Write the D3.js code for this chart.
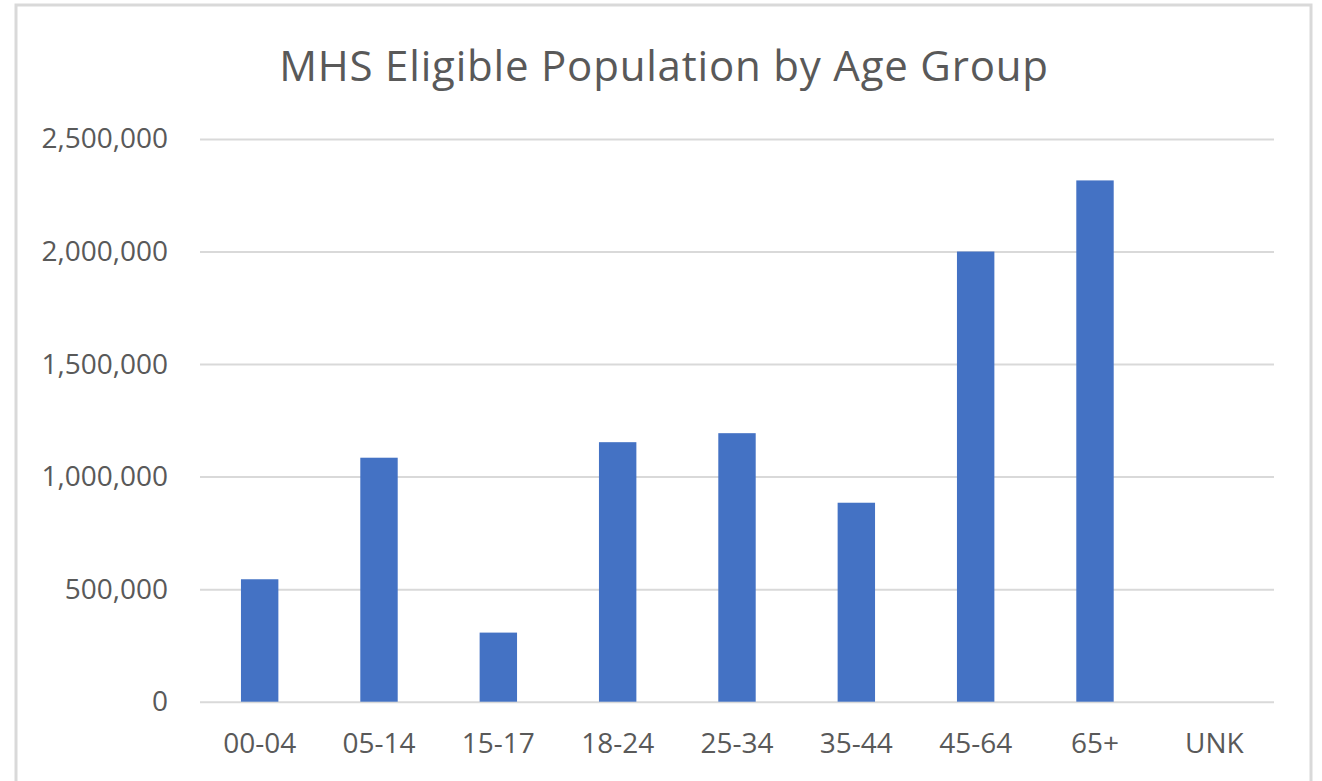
<!DOCTYPE html>
<html>
<head>
<meta charset="utf-8">
<script src="https://cdn.jsdelivr.net/npm/d3@7"></script>
<style>
  body { margin: 0; background: #fff; }
  svg { display: block; }
</style>
</head>
<body>
<div id="ageChart"></div>
<script>
// values
const ageGroups = ["00-04", "05-14", "15-17", "18-24", "25-34", "35-44", "45-64", "65+", "UNK"];
const eligiblePop = [544000, 1084000, 307000, 1153000, 1193000, 884000, 2000000, 2316000, 0];
const yTicks = [0, 500000, 1000000, 1500000, 2000000, 2500000];
const chartTitle = "MHS Eligible Population by Age Group";

const data = ageGroups.map((g, i) => ({ group: g, value: eligiblePop[i] }));

const width = 1322, height = 781;
const plot = { left: 200, right: 1274, top: 139, bottom: 701.7 };
const font = "'Open Sans', 'Noto Sans', sans-serif";
const textColor = "#595959";

const svg = d3.select("#ageChart").append("svg")
    .attr("width", width)
    .attr("height", height);

// chart frame
svg.append("rect")
    .attr("x", 16).attr("y", 5)
    .attr("width", 1295).attr("height", 820)
    .attr("fill", "#fff")
    .attr("stroke", "#d9d9d9")
    .attr("stroke-width", 3);

const gap = 1 - 1 / 3.19;
const x = d3.scaleBand().domain(ageGroups)
    .range([plot.left, plot.right])
    .paddingInner(gap).paddingOuter(gap / 2);

const y = d3.scaleLinear().domain([0, 2500000])
    .range([plot.bottom, plot.top]);

// y axis + gridlines
const yAxis = svg.append("g")
    .attr("transform", `translate(${plot.left},0)`)
    .call(d3.axisLeft(y).tickValues(yTicks).tickFormat(d3.format(","))
        .tickSizeInner(-(plot.right - plot.left)).tickSizeOuter(0).tickPadding(32));
yAxis.select(".domain").remove();
yAxis.selectAll(".tick line").attr("stroke", "#d9d9d9").attr("stroke-width", 2);
yAxis.selectAll(".tick text")
    .attr("fill", textColor)
    .attr("font-family", font)
    .attr("font-size", 28);

// x axis labels
const xAxis = svg.append("g")
    .attr("transform", `translate(0,${plot.bottom})`)
    .call(d3.axisBottom(x).tickSize(0).tickPadding(31));
xAxis.select(".domain").remove();
xAxis.selectAll(".tick text")
    .attr("fill", textColor)
    .attr("font-family", font)
    .attr("font-size", 28);

// bars
svg.append("g").selectAll("rect")
    .data(data)
    .enter()
    .append("rect")
        .attr("x", d => x(d.group))
        .attr("y", d => y(d.value))
        .attr("width", x.bandwidth())
        .attr("height", d => y(0) - y(d.value))
        .attr("fill", "#4472c4");

// title
svg.append("text")
    .attr("x", 664)
    .attr("y", 81)
    .attr("text-anchor", "middle")
    .attr("fill", textColor)
    .attr("font-family", font)
    .attr("font-size", 42)
    .attr("letter-spacing", 0.8)
    .text(chartTitle);
</script>
</body>
</html>
